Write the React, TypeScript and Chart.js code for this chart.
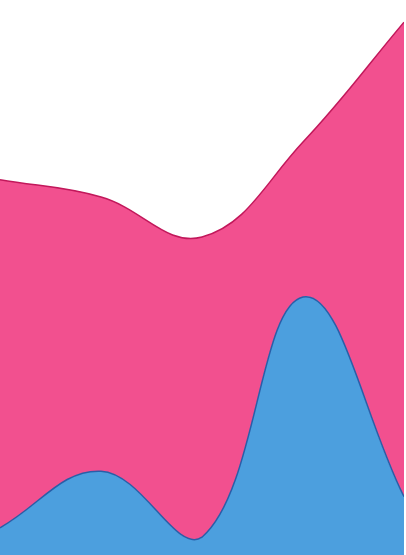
import { useEffect, useRef } from 'react';
import { Chart, registerables } from 'chart.js';

Chart.register(...registerables);

const labels = ['1', '2', '3', '4', '5'];
const blueValues = [4.9, 15.1, 3.2, 46.5, 10.5];
const pinkValues = [62.7, 49.4, 54.1, 27.9, 85.5];

export default function App() {
  const canvasRef = useRef<HTMLCanvasElement>(null);

  useEffect(() => {
    document.body.style.margin = '0';
    if (!canvasRef.current) return;
    const chart = new Chart(canvasRef.current, {
      type: 'line',
      data: {
        labels,
        datasets: [
          {
            label: 'Blue',
            data: blueValues,
            backgroundColor: '#4c9fde',
            borderColor: '#2a5ea8',
            borderWidth: 1.5,
            fill: 'origin',
            tension: 0.4,
            pointRadius: 0,
          },
          {
            label: 'Pink',
            data: pinkValues,
            backgroundColor: '#f2508f',
            borderColor: '#c2185b',
            borderWidth: 1.5,
            fill: '-1',
            tension: 0.4,
            pointRadius: 0,
          },
        ],
      },
      options: {
        animation: false,
        responsive: true,
        maintainAspectRatio: false,
        layout: { padding: 0 },
        plugins: { legend: { display: false }, tooltip: { enabled: false } },
        scales: {
          x: { display: false, offset: false },
          y: { display: false, stacked: true, min: 0, max: 100 },
        },
      },
    });
    return () => chart.destroy();
  }, []);

  return (
    <div style={{ position: 'relative', width: 404, height: 555 }}>
      <canvas ref={canvasRef} />
    </div>
  );
}
